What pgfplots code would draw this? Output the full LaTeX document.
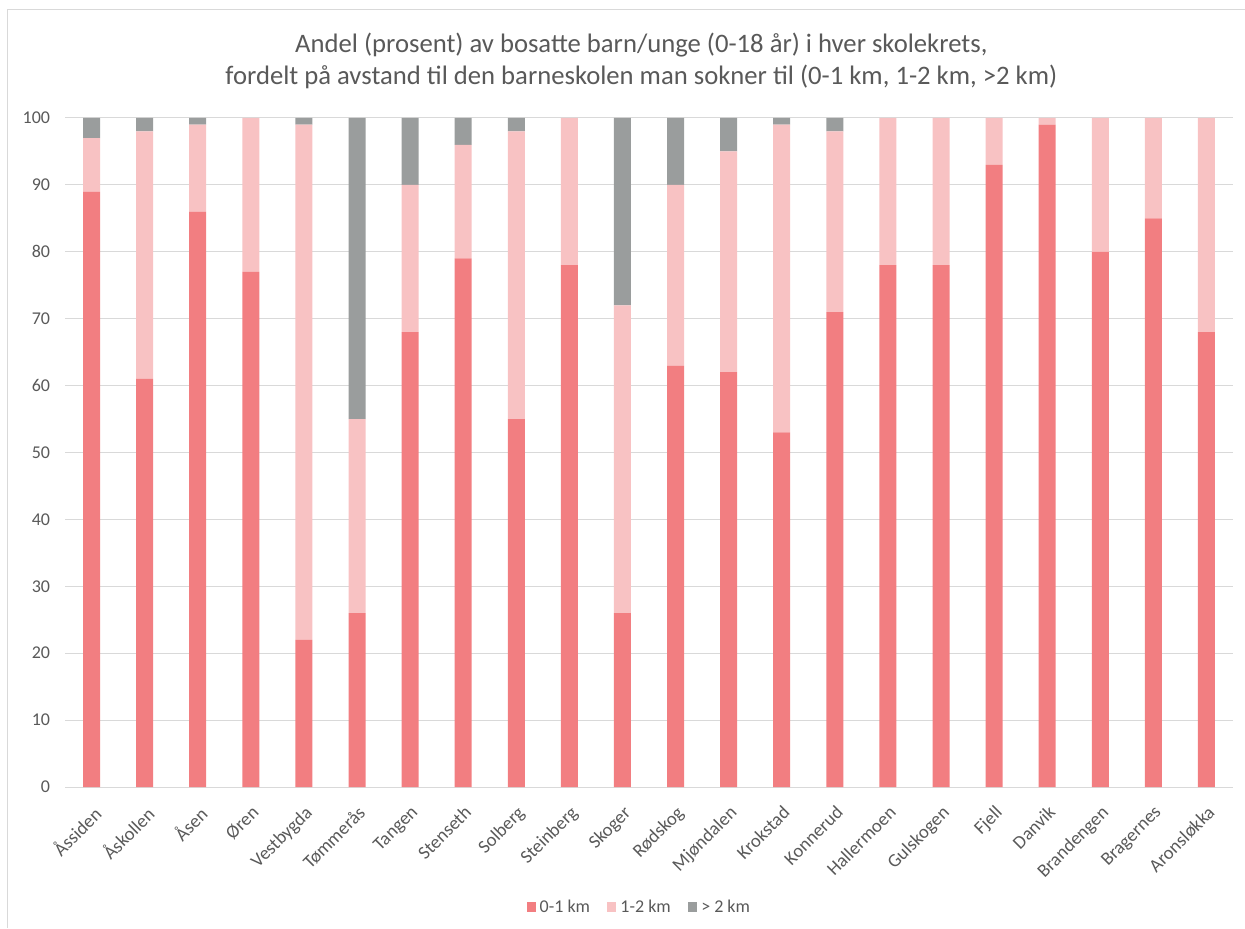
\documentclass[border=0pt]{standalone}
\usepackage{pgfplots}
\pgfplotsset{compat=1.18}
\usepackage{fontspec}
\setmainfont{Carlito}

\definecolor{near}{HTML}{F27E81}
\definecolor{mid}{HTML}{F8C2C3}
\definecolor{far}{HTML}{9A9D9D}
\definecolor{gridgray}{HTML}{D9D9D9}
\definecolor{txt}{HTML}{595959}

% Share (%) of residents by distance to school, per school district
\pgfplotstableread{
idx near mid far
0  89 8  3
1  61 37 2
2  86 13 1
3  77 23 0
4  22 77 1
5  26 29 45
6  68 22 10
7  79 17 4
8  55 43 2
9  78 22 0
10 26 46 28
11 63 27 10
12 62 33 5
13 53 46 1
14 71 27 2
15 78 22 0
16 78 22 0
17 93 7  0
18 99 1  0
19 80 20 0
20 85 15 0
21 68 32 0
}\skoledata

\begin{document}
\begin{tikzpicture}[x=1pt,y=1pt]
\path[use as bounding box] (0,0) rectangle (933.75,696);
\draw[gridgray, line width=0.75pt] (5.25,0) -- (5.25,688.5) -- (933.75,688.5);
\node[text=txt, font=\fontsize{20}{24}\selectfont, align=center] at (481,650.25)
  {Andel (prosent) av bosatte barn/unge (0-18 år) i hver skolekrets,\\
   fordelt på avstand til den barneskolen man sokner til (0-1 km, 1-2 km, >2 km)};
\begin{axis}[
  at={(48.75pt,105.75pt)}, anchor=south west,
  scale only axis, width=876pt, height=501.75pt,
  ybar stacked, bar width=12.75pt,
  xmin=-0.5, xmax=21.5, ymin=0, ymax=100,
  ytick={0,10,...,100},
  xtick={0,...,21},
  xticklabels={Åssiden,Åskollen,Åsen,Øren,Vestbygda,Tømmerås,Tangen,Stenseth,Solberg,Steinberg,Skoger,Rødskog,Mjøndalen,Krokstad,Konnerud,Hallermoen,Gulskogen,Fjell,Danvik,Brandengen,Bragernes,Aronsløkka},
  ymajorgrids, grid style={gridgray, line width=0.75pt},
  separate axis lines,
  axis x line*=bottom, axis y line*=left,
  x axis line style={gridgray, line width=0.75pt, -},
  y axis line style={draw=none},
  major tick length=0pt,
  /pgf/number format/assume math mode=true,
  ticklabel style={font=\fontsize{13.5}{16}\selectfont, text=txt},
  yticklabel style={inner sep=0pt, xshift=-11pt},
  xticklabel style={font=\fontsize{14}{17}\selectfont, rotate=45, anchor=north east,
    inner sep=0pt, xshift=-9.2pt, yshift=-9.2pt},
  legend columns=3,
  legend style={at={(0.492,-0.1794)}, anchor=center, draw=none, fill=none,
    font=\fontsize{13.5}{16}\selectfont, text=txt,
    /tikz/every odd column/.append style={column sep=1pt},
    /tikz/every even column/.append style={column sep=11pt}},
  legend image code/.code={\fill[#1] (0pt,-3.4pt) rectangle (6.8pt,3.4pt);},
]
\addplot[fill=near, draw=none] table[x=idx, y=near] {\skoledata};
\addplot[fill=mid, draw=none] table[x=idx, y=mid] {\skoledata};
\addplot[fill=far, draw=none] table[x=idx, y=far] {\skoledata};
\legend{0-1 km, 1-2 km, > 2 km}
\end{axis}
\end{tikzpicture}
\end{document}
